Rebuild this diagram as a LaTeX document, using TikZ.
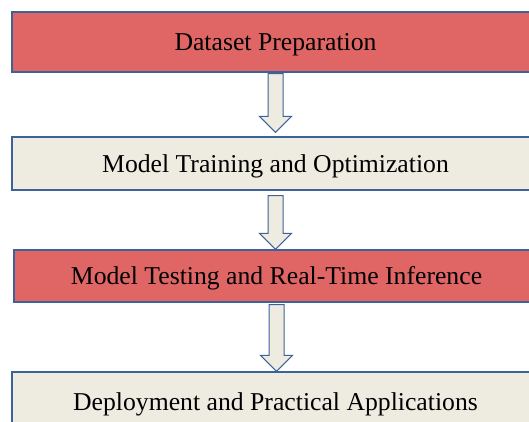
\documentclass[tikz,border=0pt]{standalone}
\usepackage{fontspec}
\setmainfont{Liberation Serif}
\usetikzlibrary{calc}

\definecolor{stageRed}{HTML}{E06666}
\definecolor{stageSand}{HTML}{EEECE1}
\definecolor{stageEdge}{HTML}{3D6299}

\tikzset{
	stage/.style={draw=stageEdge, line width=1.2pt, minimum width=527pt, inner sep=0pt,
		text height=17pt, text depth=0pt, text=black, font=\fontsize{25.7}{30}\selectfont},
	hot/.style={stage, fill=stageRed},
	plain/.style={stage, fill=stageSand},
	flow/.style={draw=stageEdge, line width=1pt, fill=stageSand, line join=miter}
}

% block arrow from the bottom of #1 to the top of #2, gaps #3 and #4
\newcommand{\flowarrow}[4]{%
	\draw[flow] let \p1=(#1.south), \p2=(#2.north) in
		(\x1-7.5pt,\y1-#3pt) -- (\x1+7.5pt,\y1-#3pt) -- (\x1+7.5pt,\y2+#4pt+16pt)
		-- (\x1+16pt,\y2+#4pt+16pt) -- (\x1,\y2+#4pt) -- (\x1-16pt,\y2+#4pt+16pt)
		-- (\x1-7.5pt,\y2+#4pt+16pt) -- cycle;}

\begin{document}
\begin{tikzpicture}[x=1pt,y=-1pt]

	% page
	\useasboundingbox (0,0) rectangle (529,421);
	\clip (0,0) rectangle (529,421);

	% stages
	\node[hot, minimum height=60pt] (prep) at (275.5,42) {Dataset Preparation};
	\node[plain, minimum height=53pt] (train) at (275.5,163.5) {Model Training and Optimization};
	\node[hot, minimum height=52pt, minimum width=525pt] (test) at (276.5,276) {Model Testing and Real-Time Inference};
	\node[plain, minimum height=60pt] (deploy) at (275.5,402) {Deployment and Practical Applications};

	% arrows
	\flowarrow{prep}{train}{1}{4}
	\flowarrow{train}{test}{5}{0}
	\flowarrow{test}{deploy}{2}{0}

\end{tikzpicture}
\end{document}
